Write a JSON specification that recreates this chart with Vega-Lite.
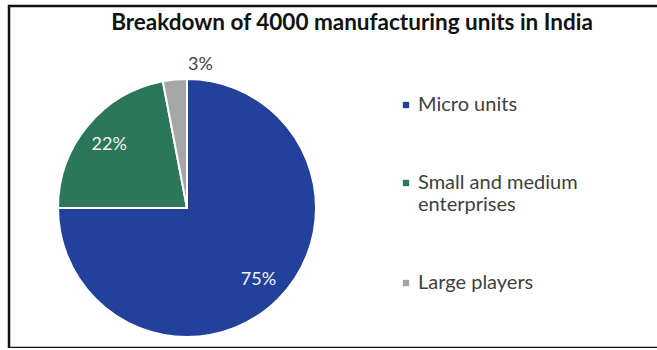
{
  "$schema": "https://vega.github.io/schema/vega-lite/v6.json",
  "width": 652,
  "height": 342,
  "autosize": {"type": "none"},
  "padding": {"left": 9, "top": 6, "right": 0, "bottom": 0},
  "background": "white",
  "view": {"stroke": "#111111", "strokeWidth": 2.5},
  "config": {
    "view": {"stroke": "#111111", "strokeWidth": 2.5},
    "style": {"cell": {"stroke": "#111111", "strokeWidth": 2.5}},
    "font": "Lato"
  },
  "title": {
    "text": "Breakdown of 4000 manufacturing units in India",
    "font": "Lato",
    "fontSize": 22.5,
    "fontWeight": "bold",
    "color": "#111111",
    "anchor": "middle",
    "frame": "group",
    "baseline": "alphabetic",
    "offset": -46,
    "dx": 17
  },
  "data": {
    "values": [
      {"category": "Micro units", "share": 75, "label": "75%", "order": 1},
      {"category": "Small and medium enterprises", "share": 22, "label": "22%", "order": 2},
      {"category": "Large players", "share": 3, "label": "3%", "order": 3}
    ]
  },
  "encoding": {
    "theta": {"field": "share", "type": "quantitative", "stack": true},
    "order": {"field": "order", "type": "quantitative"}
  },
  "layer": [
    {
      "mark": {"type": "arc", "outerRadius": 129, "x": 178, "y": 202, "stroke": "white", "strokeWidth": 2},
      "encoding": {
        "color": {
          "field": "category",
          "type": "nominal",
          "sort": ["Micro units", "Small and medium enterprises", "Large players"],
          "scale": {
            "domain": ["Micro units", "Small and medium enterprises", "Large players"],
            "range": ["#22419A", "#2C765A", "#A6A6A6"]
          },
          "legend": {
            "title": null,
            "orient": "none",
            "legendX": 387,
            "legendY": 89,
            "symbolType": "square",
            "symbolSize": 40,
            "symbolStrokeWidth": 0,
            "labelFont": "Lato",
            "labelFontSize": 20,
            "labelColor": "#404040",
            "labelOffset": 2,
            "labelLimit": 300,
            "rowPadding": 58,
            "labelExpr": "datum.label == 'Small and medium enterprises' ? ['Small and medium', 'enterprises'] : datum.label"
          }
        }
      }
    },
    {
      "transform": [{"filter": "datum.share >= 10"}],
      "mark": {"type": "text", "radius": 101, "x": 178, "y": 203, "font": "Lato", "fontSize": 18, "color": "#F2F2F2"},
      "encoding": {"text": {"field": "label"}}
    },
    {
      "transform": [{"filter": "datum.share < 10"}],
      "mark": {"type": "text", "radius": 144, "x": 178, "y": 202, "font": "Lato", "fontSize": 18, "color": "#404040"},
      "encoding": {"text": {"field": "label"}}
    }
  ]
}
